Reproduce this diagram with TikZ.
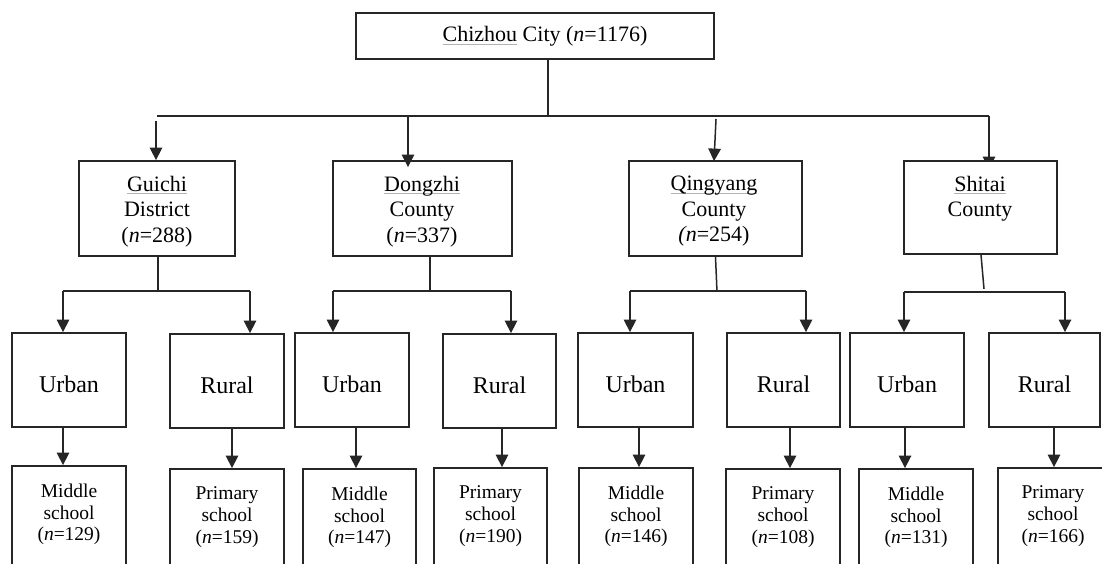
\documentclass[tikz,border=0pt]{standalone}
\usepackage{fontspec}
\setmainfont{Liberation Serif}
\usetikzlibrary{arrows.meta,backgrounds}
\newcommand\ulg[1]{\setbox0=\hbox{#1}\rlap{\color{black!30}\rule[-3pt]{\wd0}{0.9pt}}\box0\relax}
\begin{document}
\begin{tikzpicture}[x=1pt,y=-1pt,
  box/.style={draw=black!85,line width=1.8pt,fill=white,inner sep=0pt},
  ln/.style={draw=black!85,line width=1.5pt},
  arr/.style={ln,-{Triangle[width=12.5pt,length=12.5pt]}},
  tA/.style={font=\fontsize{22pt}{25.5pt}\selectfont,align=center,inner sep=0pt},
  tB/.style={font=\fontsize{24pt}{28pt}\selectfont,inner sep=0pt,anchor=base},
  tC/.style={font=\fontsize{19.5pt}{21.7pt}\selectfont,align=center,inner sep=0pt,anchor=north}]
\useasboundingbox (0,0) rectangle (1102,564);
\begin{pgfonlayer}{background}
\fill[white] (0,0) rectangle (1102,564);
\end{pgfonlayer}
\clip (0,0) rectangle (1102,564);

% level 1
\node[box,minimum width=358pt,minimum height=46pt] (city) at (535,36) {};
\node[tA,anchor=base] (cityt) at (545,42) {\ulg{Chizhou} City (\textit{n}=1176)};

% level 2
\node[box,minimum width=156pt,minimum height=95pt] (guichi) at (157,208.5) {};
\node[box,minimum width=179pt,minimum height=95pt] (dongzhi) at (422.5,208.5) {};
\node[box,minimum width=173pt,minimum height=95pt] (qingyang) at (715.5,208.5) {};
\node[box,minimum width=153pt,minimum height=93pt] (shitai) at (980.5,207.5) {};
\node[tA,anchor=north] (guichit) at (157,175.8) {\ulg{Guichi}\\District\\(\textit{n}=288)};
\node[tA,anchor=north] (dongzhit) at (422,175.8) {\ulg{Dongzhi}\\County\\(\textit{n}=337)};
\node[tA,anchor=north] (qingyangt) at (714,175.8) {\ulg{Qingyang}\\County\\\textit{(n}=254)};
\node[tA,anchor=north] (shitait) at (980,175.8) {\ulg{Shitai}\\County};

% level 3
\node[box,minimum width=114pt,minimum height=94pt] (gu) at (69,380) {};
\node[box,minimum width=114pt,minimum height=94pt] (gr) at (227,381) {};
\node[box,minimum width=114pt,minimum height=94pt] (du) at (352,380) {};
\node[box,minimum width=113pt,minimum height=94pt] (dr) at (499.5,381) {};
\node[box,minimum width=115pt,minimum height=94pt] (qu) at (635.5,380) {};
\node[box,minimum width=113pt,minimum height=94pt] (qr) at (783.5,380) {};
\node[box,minimum width=114pt,minimum height=94pt] (su) at (907,380) {};
\node[box,minimum width=111pt,minimum height=94pt] (sr) at (1044.5,380) {};
\node[tB] (gut) at (69,392) {Urban};
\node[tB] (grt) at (227,393) {Rural};
\node[tB] (dut) at (352,392) {Urban};
\node[tB] (drt) at (499.5,393) {Rural};
\node[tB] (qut) at (635.5,392) {Urban};
\node[tB] (qrt) at (783.5,392) {Rural};
\node[tB] (sut) at (907,392) {Urban};
\node[tB] (srt) at (1044.5,392) {Rural};

% level 4
\node[box,minimum width=114pt,minimum height=134pt] (gm) at (69,533) {};
\node[box,minimum width=114pt,minimum height=131pt] (gp) at (227,534.5) {};
\node[box,minimum width=113pt,minimum height=131pt] (dm) at (359.5,534.5) {};
\node[box,minimum width=113pt,minimum height=132pt] (dp) at (490.5,534) {};
\node[box,minimum width=114pt,minimum height=132pt] (qm) at (636,534) {};
\node[box,minimum width=114pt,minimum height=131pt] (qp) at (783,534.5) {};
\node[box,minimum width=114pt,minimum height=131pt] (sm) at (916,534.5) {};
\node[box,minimum width=110pt,minimum height=132pt] (sp) at (1053,534) {};
\node[tC] (gmt) at (69,483.6) {Middle\\school\\(\textit{n}=129)};
\node[tC] (gpt) at (227,486.6) {Primary\\school\\(\textit{n}=159)};
\node[tC] (dmt) at (359.5,486.6) {Middle\\school\\(\textit{n}=147)};
\node[tC] (dpt) at (490.5,485.6) {Primary\\school\\(\textit{n}=190)};
\node[tC] (qmt) at (636,485.6) {Middle\\school\\(\textit{n}=146)};
\node[tC] (qpt) at (783,486.6) {Primary\\school\\(\textit{n}=108)};
\node[tC] (smt) at (916,486.6) {Middle\\school\\(\textit{n}=131)};
\node[tC] (spt) at (1053,485.6) {Primary\\school\\(\textit{n}=166)};

% connectors level 1 -> 2
\coordinate (bus) at (548,116);
\coordinate (h1L) at (157,116);
\coordinate (h1R) at (989,116);
\coordinate (a1) at (156,121);
\coordinate (a2) at (408,116);
\coordinate (a3) at (716,119);
\draw[ln] (city.south -| bus) -- (bus);
\draw[ln] (h1L) -- (h1R);
\draw[arr] (a1) -- ([xshift=-1pt]guichi.north);
\draw[arr] (a2) -- ([xshift=-14.5pt,yshift=-7pt]dongzhi.north);
\draw[arr] (a3) -- ([xshift=-1.5pt,yshift=-1pt]qingyang.north);
\begin{pgfonlayer}{background}
\draw[arr] (h1R) -- ([xshift=8.5pt,yshift=-9pt]shitai.north);
\end{pgfonlayer}

% level 2 -> 3
\coordinate (gL) at (63,291);
\coordinate (gR) at (250,291);
\draw[ln] ([xshift=1pt]guichi.south) -- ++(0,35);
\draw[ln] (gL) -- (gR);
\draw[arr] (gL) -- ([xshift=-6pt]gu.north);
\draw[arr] (gR) -- ([xshift=23pt]gr.north);

\coordinate (dL) at (333,291);
\coordinate (dR) at (511,291);
\draw[ln] ([xshift=7.5pt]dongzhi.south) -- ++(0,35);
\draw[ln] (dL) -- (dR);
\draw[arr] (dL) -- ([xshift=-19pt]du.north);
\draw[arr] (dR) -- ([xshift=11.5pt]dr.north);

\coordinate (qL) at (630,291);
\coordinate (qR) at (806,291);
\draw[ln] (qingyang.south) -- ++(1.5,35);
\draw[ln] (qL) -- (qR);
\draw[arr] (qL) -- ([xshift=-5.5pt]qu.north);
\draw[arr] (qR) -- ([xshift=22.5pt]qr.north);

\coordinate (sL) at (904,292);
\coordinate (sR) at (1065,292);
\draw[ln] ([xshift=0.5pt]shitai.south) -- ++(3,34);
\draw[ln] (sL) -- (sR);
\draw[arr] (sL) -- ([xshift=-3pt]su.north);
\draw[arr] (sR) -- ([xshift=20.5pt]sr.north);

% level 3 -> 4
\draw[arr] ([xshift=-6pt]gu.south) -- ([xshift=-6pt]gm.north);
\draw[arr] ([xshift=5pt]gr.south) -- ([xshift=5pt]gp.north);
\draw[arr] ([xshift=4pt]du.south) -- ([xshift=-3.5pt]dm.north);
\draw[arr] ([xshift=2.5pt]dr.south) -- ([xshift=11.5pt]dp.north);
\draw[arr] ([xshift=3.5pt]qu.south) -- ([xshift=3pt]qm.north);
\draw[arr] ([xshift=6.5pt]qr.south) -- ([xshift=7pt]qp.north);
\draw[arr] ([xshift=-2pt]su.south) -- ([xshift=-11pt]sm.north);
\draw[arr] ([xshift=9.5pt]sr.south) -- ([xshift=1pt]sp.north);
\end{tikzpicture}
\end{document}
